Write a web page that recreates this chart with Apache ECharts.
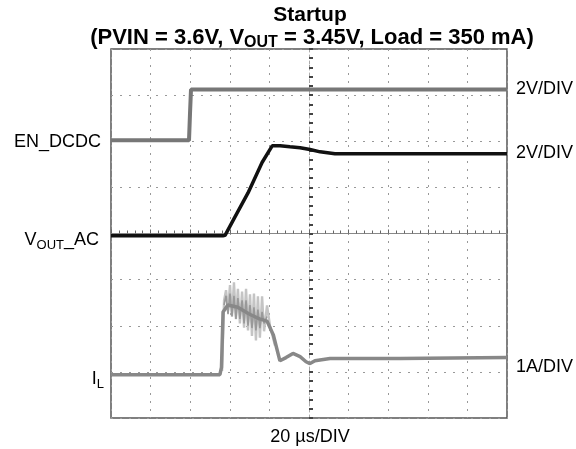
<!DOCTYPE html>
<html><head><meta charset="utf-8">
<script src="https://cdn.jsdelivr.net/npm/echarts@6/dist/echarts.min.js"></script>
<style>html,body{margin:0;padding:0;background:#fff}#c{width:576px;height:449px}</style>
</head><body><div id="c"></div><script>
// time in µs (trigger at centre), values in scope divisions
const enTime = [-100, -60.6, -60.1, -59.6, 100];
const enDiv  = [2.02, 2.02, 2.6, 3.12, 3.12];

const voutTime = [-100, -43.5, -42.4, -36.9, -30.8, -23.7, -18.6, -14.6, -9.6, -4.5, 0.5, 5.6, 13.1, 100];
const voutDiv  = [-0.05, -0.05, -0.04, 0.40, 0.88, 1.54, 1.90, 1.90, 1.88, 1.86, 1.82, 1.77, 1.73, 1.73];

const ilTime = [-100, -45, -44.2, -43.4, -41, -36, -30, -25, -21.2, -18, -14.7, -11.6, -8.1, -4.5, -1.5, 0.5, 3, 10.6, 46, 100];
const ilDiv  = [-3.06, -3.06, -2.9, -1.7, -1.55, -1.6, -1.75, -1.85, -1.9, -2.2, -2.76, -2.69, -2.6, -2.67, -2.78, -2.82, -2.76, -2.71, -2.71, -2.69];

const rippleTime = [-43.9, -42.9, -41.9, -40.9, -39.9, -38.9, -37.9, -36.9, -35.9, -34.9, -33.8, -32.8, -31.8, -30.8, -29.8, -28.8, -27.8, -26.8, -25.8, -24.8, -23.7, -22.7, -21.2, -19.7, -17.2];
const rippleDiv  = [-2.98, -1.45, -1.23, -1.67, -1.12, -1.80, -1.06, -1.86, -1.20, -1.95, -1.26, -2.04, -1.20, -2.10, -1.32, -2.22, -1.30, -2.32, -1.36, -2.26, -1.36, -2.12, -1.56, -2.00, -2.43];

const darkRippleTime = [-42.9, -41.9, -40.9, -39.9, -38.9, -37.9, -36.9, -35.9, -34.9, -33.8, -32.8, -31.8, -30.8, -29.8, -28.8, -27.8, -26.8, -25.8, -24.8, -23.7, -22.7, -21.2];
const darkRippleDiv  = [-1.55, -1.35, -1.75, -1.30, -1.80, -1.35, -1.85, -1.40, -1.85, -1.45, -1.95, -1.45, -2.00, -1.55, -2.05, -1.60, -2.10, -1.65, -2.05, -1.70, -1.95, -1.80];

const pairs = (t, v) => t.map((x, i) => [x, v[i]]);

const chart = echarts.init(document.getElementById('c'), null, {renderer: 'canvas'});
const F = 'Liberation Sans, Arial, sans-serif';
const nrm = {fontSize: 18, fontFamily: F, color: '#000'};
const sub = {fontSize: 13, fontFamily: F, color: '#000', padding: [10, 0, 0, 0]};

chart.setOption({
  animation: false,
  backgroundColor: '#fff',
  grid: {left: 111, right: 69, top: 49, bottom: 31, show: true, borderColor: '#555', borderWidth: 1.5},
  xAxis: {
    type: 'value', min: -100, max: 100, interval: 20,
    axisLabel: {show: false},
    axisLine: {onZero: true, lineStyle: {color: '#888', width: 1}},
    axisTick: {show: true, inside: true, length: 4, lineStyle: {color: '#666'}},
    minorTick: {show: true, splitNumber: 5, length: 3, lineStyle: {color: '#666'}},
    splitLine: {show: true, lineStyle: {color: '#999', width: 1, type: [2, 6]}}
  },
  yAxis: {
    type: 'value', min: -4, max: 4, interval: 1,
    axisLabel: {show: false},
    axisLine: {onZero: true, lineStyle: {color: '#aaa', width: 1, type: [3, 3]}},
    axisTick: {show: true, inside: true, length: 4, lineStyle: {color: '#444', width: 2}},
    minorTick: {show: true, splitNumber: 5, length: 4, lineStyle: {color: '#444', width: 2}},
    splitLine: {show: true, lineStyle: {color: '#999', width: 1, type: [2, 7]}}
  },
  series: [
    {type: 'line', data: pairs(enTime, enDiv), symbol: 'none', lineStyle: {color: '#777', width: 4}, z: 3},
    {type: 'line', data: pairs(voutTime, voutDiv), symbol: 'none', lineStyle: {color: '#111', width: 3.5}, z: 4},
    {type: 'line', data: pairs(rippleTime, rippleDiv), symbol: 'none', lineStyle: {color: '#c4c4c4', width: 2.4}, z: 2},
    {type: 'line', data: pairs(darkRippleTime, darkRippleDiv), symbol: 'none', lineStyle: {color: '#999', width: 1.6}, z: 3},
    {type: 'line', data: pairs(ilTime, ilDiv), symbol: 'none', lineStyle: {color: '#888', width: 3.5}, z: 3}
  ],
  graphic: [
    {type: 'text', style: {text: 'Startup', x: 310, y: 15, font: 'bold 21px ' + F, textAlign: 'center', textVerticalAlign: 'middle', fill: '#000'}},
    {type: 'text', style: {
      text: '{b|(PVIN = 3.6V, V}{s|OUT}{b| = 3.45V, Load = 350 mA)}', x: 312, y: 38,
      align: 'center', verticalAlign: 'middle',
      rich: {b: {fontSize: 22, fontWeight: 'bold', fontFamily: F, color: '#000'}, s: {fontSize: 16, fontWeight: 'bold', fontFamily: F, color: '#000', padding: [10, 0, 0, 0]}}
    }},
    {type: 'text', style: {text: 'EN_DCDC', x: 101, y: 142, font: '18px ' + F, textAlign: 'right', textVerticalAlign: 'middle', fill: '#000'}},
    {type: 'text', style: {text: '{n|V}{s|OUT}{n|_AC}', x: 99, y: 240, align: 'right', verticalAlign: 'middle', rich: {n: nrm, s: sub}}},
    {type: 'text', style: {text: '{n|I}{s|L}', x: 104, y: 379, align: 'right', verticalAlign: 'middle', rich: {n: nrm, s: sub}}},
    {type: 'text', style: {text: '2V/DIV', x: 516, y: 89, font: '18px ' + F, textAlign: 'left', textVerticalAlign: 'middle', fill: '#000'}},
    {type: 'text', style: {text: '2V/DIV', x: 516, y: 153, font: '18px ' + F, textAlign: 'left', textVerticalAlign: 'middle', fill: '#000'}},
    {type: 'text', style: {text: '1A/DIV', x: 516, y: 367, font: '18px ' + F, textAlign: 'left', textVerticalAlign: 'middle', fill: '#000'}},
    {type: 'text', style: {text: '20 µs/DIV', x: 310, y: 437, font: '18px ' + F, textAlign: 'center', textVerticalAlign: 'middle', fill: '#000'}}
  ]
});
</script></body></html>
